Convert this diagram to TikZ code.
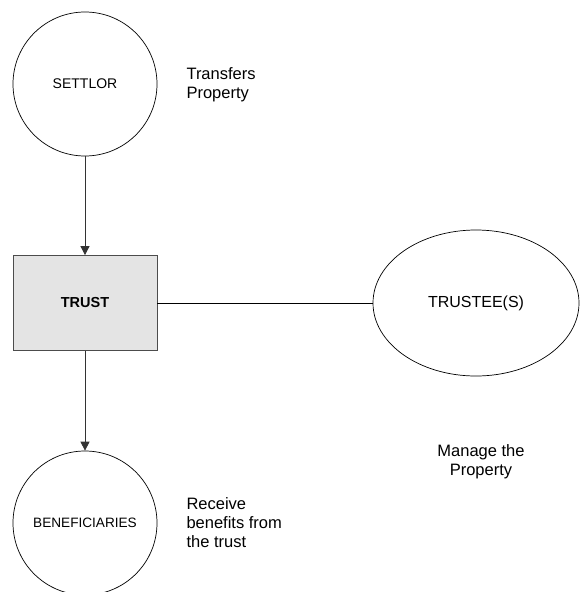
\documentclass[tikz,border=0pt]{standalone}
\usepackage{fontspec}
\setmainfont{Liberation Sans}
\usepackage{xcolor}
\usetikzlibrary{arrows.meta}
\usetikzlibrary{shapes.geometric}
\definecolor{trustgray}{HTML}{E4E4E4}

\begin{document}
\begin{tikzpicture}[
			     x=1pt, y=-1pt,
			     party/.style={draw, circle, minimum size=144pt, inner sep=0pt, line width=0.7pt},
			     trustbox/.style={draw=black!70, fill=trustgray, minimum width=144pt, minimum height=95pt, line width=0.8pt},
			     note/.style={align=left, font=\fontsize{16.5}{19}\selectfont, anchor=west},
			     normal line/.style={-{Triangle[length=9pt,width=9pt]}, line width=0.8pt, draw=black!80}
			     ] 
\useasboundingbox (0,0) rectangle (581,592);
\clip (0,0) rectangle (581,592);
\node[party, font=\fontsize{14}{16}\selectfont] (settlor) at (85,84) {SETTLOR};
\node[trustbox, font=\bfseries\fontsize{14.5}{17}\selectfont] (trust) at (85,303) {TRUST};
\node[draw, ellipse, minimum width=206pt, minimum height=146pt, inner sep=0pt, line width=0.7pt, font=\fontsize{16}{19}\selectfont] (trustee) at (476,303) {TRUSTEE(S)};
\node[party, font=\fontsize{13.6}{16}\selectfont] (benef) at (85,523) {BENEFICIARIES};
\node[note] (transfers) at (183,85) {Transfers\\Property};
\node[note] (receive) at (183,523) {Receive\\benefits from\\the trust};
\node[note, align=center, anchor=center] (manage) at (481,462) {Manage the\\Property};
\path (settlor) edge[normal line] (trust);
\path (trust) edge[normal line] (benef);
\path (trust) edge[line width=0.7pt] (trustee);
\end{tikzpicture}
\end{document}
